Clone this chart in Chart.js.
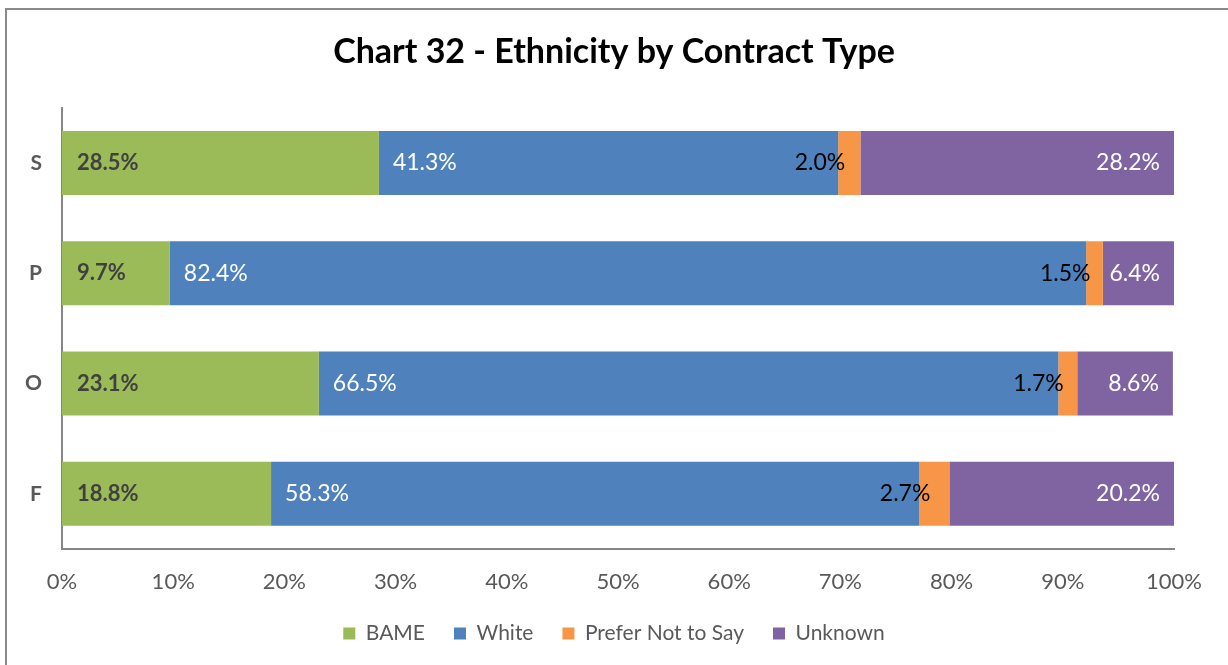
<!DOCTYPE html>
<html lang="en">
  <head>
    <meta charset="UTF-8" />
    <title>Chart 32 - Ethnicity by Contract Type</title>
    <script src="https://cdn.jsdelivr.net/npm/chart.js@4"></script>
    <style>
      html, body { margin: 0; padding: 0; background: #fff; overflow: hidden; }
      #wrap { position: relative; width: 1228px; height: 665px; }
      #frame {
        position: absolute; left: 5px; top: 8px; width: 1240px; height: 680px;
        border: 2px solid #8a8a8a; pointer-events: none;
      }
    </style>
  </head>
  <body>
    <div id="wrap">
      <div id="frame"></div>
      <canvas id="myChart" width="1228" height="665"></canvas>
    </div>

    <script>
      // contract types, top to bottom
      const contractTypes = ['S', 'P', 'O', 'F'];

      // percentage of staff in each group
      const bame = [28.5, 9.7, 23.1, 18.8];
      const white = [41.3, 82.4, 66.5, 58.3];
      const preferNot = [2.0, 1.5, 1.7, 2.7];
      const unknown = [28.2, 6.4, 8.6, 20.2];

      const FONT = 'Lato, "Open Sans", sans-serif';

      // value labels drawn on each segment, the way the spreadsheet places them
      const segmentLabels = {
        id: 'segmentLabels',
        afterDatasetsDraw(chart) {
          const ctx = chart.ctx;
          ctx.save();
          ctx.textBaseline = 'middle';
          chart.data.datasets.forEach((ds, i) => {
            const meta = chart.getDatasetMeta(i);
            meta.data.forEach((bar, j) => {
              const text = ds.data[j].toFixed(1) + '%';
              const left = Math.min(bar.x, bar.base);
              const right = Math.max(bar.x, bar.base);
              if (i === 0) {
                ctx.font = 'bold 22px ' + FONT;
                ctx.fillStyle = '#404040';
                ctx.textAlign = 'left';
                ctx.fillText(text, left + 15, bar.y);
              } else if (i === 1) {
                ctx.font = '23px ' + FONT;
                ctx.fillStyle = '#ffffff';
                ctx.textAlign = 'left';
                ctx.fillText(text, left + 14, bar.y);
              } else if (i === 2) {
                ctx.font = '23px ' + FONT;
                ctx.fillStyle = '#000000';
                ctx.textAlign = 'right';
                ctx.fillText(text, (left + right) / 2 - 4, bar.y);
              } else {
                ctx.font = '23px ' + FONT;
                ctx.fillStyle = '#ffffff';
                ctx.textAlign = 'right';
                ctx.fillText(text, right - 14, bar.y);
              }
            });
          });
          ctx.restore();
        }
      };

      const ctx = document.getElementById('myChart').getContext('2d');
      const myChart = new Chart(ctx, {
        type: 'bar',
        data: {
          labels: contractTypes,
          datasets: [
            { label: 'BAME', data: bame, backgroundColor: '#9bbb59' },
            { label: 'White', data: white, backgroundColor: '#4f81bd' },
            { label: 'Prefer Not to Say', data: preferNot, backgroundColor: '#f79646' },
            { label: 'Unknown', data: unknown, backgroundColor: '#8064a2' }
          ]
        },
        options: {
          indexAxis: 'y',
          responsive: false,
          animation: false,
          layout: { padding: { left: 0, right: 0, top: 0, bottom: 11 } },
          datasets: {
            bar: { barPercentage: 0.58, categoryPercentage: 1.0, borderWidth: 0 }
          },
          scales: {
            x: {
              stacked: true,
              min: 0,
              max: 100,
              ticks: {
                stepSize: 10,
                padding: 20,
                color: '#595959',
                font: { family: FONT, size: 22 },
                callback: v => v + '%'
              },
              grid: { display: false, drawTicks: false },
              border: { display: true, color: '#868686', width: 2 },
              afterFit(scale) { scale.height = 45; }
            },
            y: {
              stacked: true,
              ticks: {
                padding: 20,
                color: '#595959',
                font: { family: FONT, size: 21, weight: 'bold' }
              },
              grid: { display: false, drawTicks: false },
              border: { display: true, color: '#868686', width: 2 },
              afterFit(scale) { scale.width = 62; }
            },
            // empty strip on the right so the last tick label has room
            yRight: {
              type: 'category',
              position: 'right',
              ticks: { display: false },
              grid: { display: false, drawTicks: false },
              border: { display: false },
              afterFit(scale) { scale.width = 54; }
            }
          },
          plugins: {
            title: {
              display: true,
              text: 'Chart 32 - Ethnicity by Contract Type',
              color: '#000000',
              font: { family: FONT, size: 34, weight: 'bold', lineHeight: 1.2 },
              padding: { top: 32, bottom: 35 }
            },
            legend: {
              position: 'bottom',
              labels: {
                color: '#595959',
                font: { family: FONT, size: 21 },
                boxWidth: 12,
                boxHeight: 12,
                padding: 29
              }
            },
            tooltip: { enabled: false }
          }
        },
        plugins: [segmentLabels]
      });
    </script>
  </body>
</html>
